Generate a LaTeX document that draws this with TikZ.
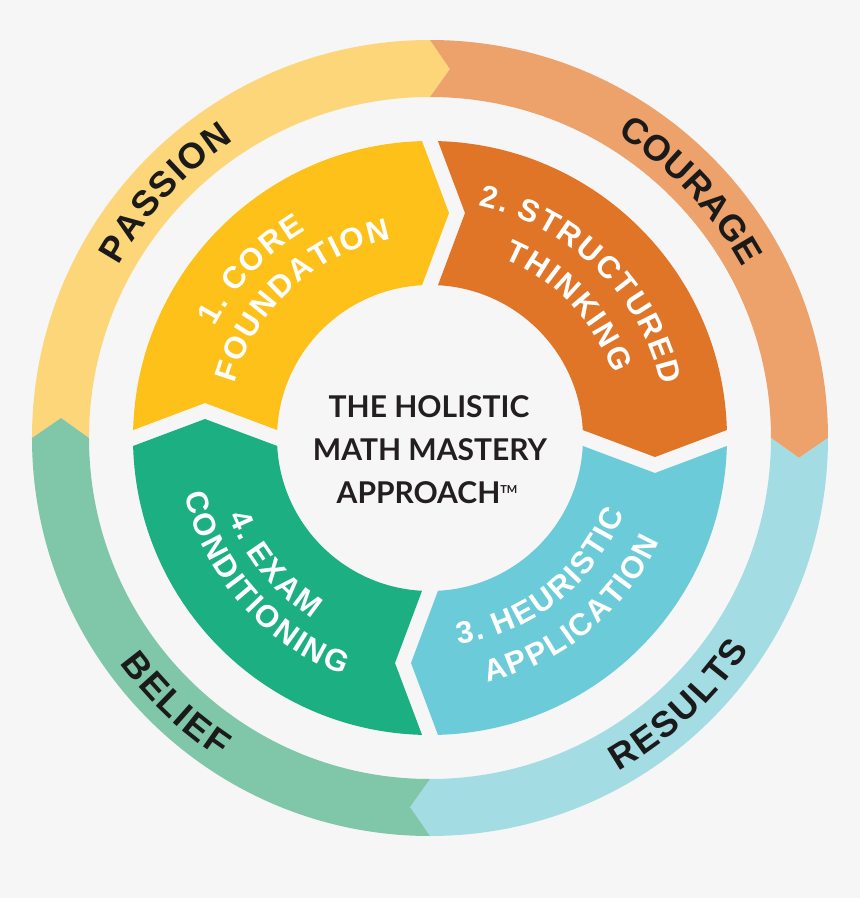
\documentclass[tikz,border=0pt]{standalone}
\usepackage{fontspec}
\usetikzlibrary{calc,decorations.text}
\newfontfamily\labelfont[UprightFont={* Bold}]{Liberation Sans}
\newfontfamily\centerfont[BoldFont={* Bold}]{Lato}
\definecolor{bgcol}{HTML}{F6F6F6}
\definecolor{passioncol}{HTML}{FDD67A}
\definecolor{couragecol}{HTML}{ECA26A}
\definecolor{resultscol}{HTML}{A4DCE4}
\definecolor{beliefcol}{HTML}{80C6A8}
\definecolor{corecol}{HTML}{FDC11A}
\definecolor{structcol}{HTML}{E07528}
\definecolor{heurcol}{HTML}{6CCBD8}
\definecolor{examcol}{HTML}{1BAF82}
\definecolor{inkcol}{HTML}{1A1A1A}
\definecolor{centercol}{HTML}{231F20}
% outer ring
\def\Ra{398pt}\def\Rb{369.5pt}\def\Rc{341pt}\def\dl{3.1}
% inner ring
\def\Ro{297pt}\def\Rm{225pt}\def\Ri{153pt}\def\ao{1.54}\def\ai{2.99}\def\tp{19pt}\def\nt{35pt}
\newlength\trklen
\newcommand{\tk}{\kern\trklen}
\newcommand{\outerfnt}{\labelfont\fontsize{36}{36}\selectfont}
\newcommand{\innerfnt}{\labelfont\fontsize{31}{31}\selectfont}
\newcommand{\ringseg}[3]{%
  \fill[#3] (#1:\Ra) arc[start angle=#1, end angle=#2, radius=\Ra]
    -- (#2-\dl:\Rb) -- (#2:\Rc) arc[start angle=#2, end angle=#1, radius=\Rc]
    -- (#1-\dl:\Rb) -- cycle;}
\newcommand{\stepseg}[3]{%
  \fill[#3] (#1-\ao:\Ro) arc[start angle=#1-\ao, end angle=#2+\ao, radius=\Ro]
    -- ($(#2:\Rm)+(#2-90:\tp)$)
    -- (#2+\ai:\Ri) arc[start angle=#2+\ai, end angle=#1-\ai, radius=\Ri]
    -- ($(#1:\Rm)+(#1-90:\nt)$) -- cycle;}
% #1 start angle, #2 end angle, #3 baseline radius, #4 font, #5 colour, #6 text, #7 tracking
\newcommand{\arctext}[7]{%
  \setlength\trklen{#7}%
  \path[decorate, decoration={text along path, text={|#4|#6},
      text align=center, text color=#5}]
    (#1:#3) arc[start angle=#1, end angle=#2, radius=#3];}
\tikzset{
  centerline/.style={font=\centerfont\bfseries\fontsize{30}{36}\selectfont, text=centercol, anchor=base, inner sep=0pt}
}
\begin{document}
\begin{tikzpicture}
\fill[bgcol] (-430pt,-460pt) rectangle (430pt,438pt);
\useasboundingbox (-430pt,-460pt) rectangle (430pt,438pt);
% outer ring
\ringseg{180}{90}{passioncol}
\ringseg{90}{0}{couragecol}
\ringseg{0}{-90}{resultscol}
\ringseg{270}{180}{beliefcol}
% inner steps
\stepseg{180}{90}{corecol}
\stepseg{90}{0}{structcol}
\stepseg{0}{-90}{heurcol}
\stepseg{270}{180}{examcol}
% outer labels
\arctext{151.1}{123.3}{356pt}{\outerfnt}{inkcol}{{P\tk}{A\tk}{S\tk}{S\tk}{I\tk}{O\tk}N}{1.5pt}
\arctext{58}{29}{356pt}{\outerfnt}{inkcol}{{C\tk}{O\tk}{U\tk}{R\tk}{A\tk}{G\tk}E}{0pt}
\arctext{-60.7}{-33.3}{383pt}{\outerfnt}{inkcol}{{R\tk}{E\tk}{S\tk}{U\tk}{L\tk}{T\tk}S}{2pt}
\arctext{216}{236.6}{383pt}{\outerfnt}{inkcol}{{B\tk}{E\tk}{L\tk}{I\tk}{E\tk}F}{2pt}
% inner labels
\arctext{152.8}{120.7}{242pt}{\innerfnt}{white}{{1\tk}{.\tk} {C\tk}{O\tk}{R\tk}E}{2pt}
\arctext{163.8}{101.9}{203pt}{\innerfnt}{white}{{F\tk}{O\tk}{U\tk}{N\tk}{D\tk}{A\tk}{T\tk}{I\tk}{O\tk}N}{2pt}
\arctext{75.7}{15.2}{237pt}{\innerfnt}{white}{{2\tk}{.\tk} {S\tk}{T\tk}{R\tk}{U\tk}{C\tk}{T\tk}{U\tk}{R\tk}{E\tk}D}{2pt}
\arctext{65.6}{21.3}{194pt}{\innerfnt}{white}{{T\tk}{H\tk}{I\tk}{N\tk}{K\tk}{I\tk}{N\tk}G}{2pt}
\arctext{-82.2}{-20.8}{208pt}{\innerfnt}{white}{{3\tk}{.\tk} {H\tk}{E\tk}{U\tk}{R\tk}{I\tk}{S\tk}{T\tk}{I\tk}C}{2pt}
\arctext{-76.3}{-24.7}{251pt}{\innerfnt}{white}{{A\tk}{P\tk}{P\tk}{L\tk}{I\tk}{C\tk}{A\tk}{T\tk}{I\tk}{O\tk}N}{2pt}
\arctext{200.9}{237.4}{216pt}{\innerfnt}{white}{{4\tk}{.\tk} {E\tk}{X\tk}{A\tk}M}{2pt}
\arctext{193.3}{249.6}{252pt}{\innerfnt}{white}{{C\tk}{O\tk}{N\tk}{D\tk}{I\tk}{T\tk}{I\tk}{O\tk}{N\tk}{I\tk}{N\tk}G}{2pt}
% centre title
\node[centerline] (t1) at (-1pt,21pt) {THE HOLISTIC};
\node[centerline] (t2) at (0pt,-22pt) {MATH MASTERY};
\node[centerline] (t3) at (-3pt,-65pt) {APPROACH\raisebox{10pt}{\fontsize{11}{11}\selectfont TM}};
\end{tikzpicture}
\end{document}
